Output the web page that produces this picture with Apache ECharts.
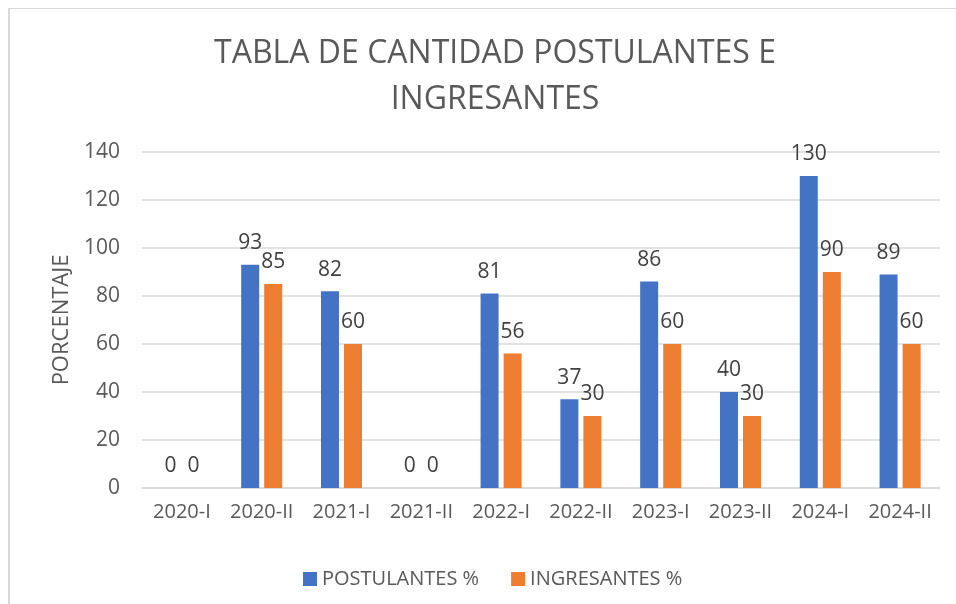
<!DOCTYPE html>
<html>
<head>
<meta charset="utf-8">
<script src="https://cdn.jsdelivr.net/npm/echarts@6/dist/echarts.min.js"></script>
<style>
  html, body { margin: 0; padding: 0; background: #fff; overflow: hidden; }
  #frame {
    position: absolute; left: 8px; top: 8px; width: 1000px; height: 700px;
    border-left: 2px solid #d9d9d9; border-top: 1px solid #d9d9d9;
  }
  #main { position: absolute; left: 0; top: 0; width: 956px; height: 604px; }
</style>
</head>
<body>
<div id="frame"></div>
<div id="main"></div>
<script>
// periodos
const periodos = ['2020-I', '2020-II', '2021-I', '2021-II', '2022-I', '2022-II', '2023-I', '2023-II', '2024-I', '2024-II']
// valores
const postulantes = [0, 93, 82, 0, 81, 37, 86, 40, 130, 89]
const ingresantes = [0, 85, 60, 0, 56, 30, 60, 30, 90, 60]
const ejeY = { min: 0, max: 140, interval: 20 }

const FONT = '"Open Sans", "Noto Sans", sans-serif'
const GRIS = '#595959'

const chart = echarts.init(document.getElementById('main'))

const etiqueta = {
  show: true,
  position: 'top',
  distance: 11,
  fontFamily: FONT,
  fontSize: 21,
  color: '#404040'
}

chart.setOption({
  animation: false,
  title: {
    text: 'TABLA DE CANTIDAD POSTULANTES E\nINGRESANTES',
    left: 490,
    top: 26,
    textAlign: 'center',
    textStyle: {
      fontFamily: FONT,
      fontSize: 32,
      fontWeight: 'normal',
      lineHeight: 46,
      color: GRIS
    }
  },
  legend: {
    left: 298,
    top: 564,
    itemWidth: 14,
    itemHeight: 14,
    itemGap: 32,
    icon: 'rect',
    textStyle: { fontFamily: FONT, fontSize: 20, color: GRIS }
  },
  grid: { left: 142, right: 16, top: 152, bottom: 116 },
  xAxis: {
    type: 'category',
    data: periodos,
    axisTick: { show: false },
    axisLine: { lineStyle: { color: '#d9d9d9', width: 1.5 } },
    axisLabel: { interval: 0, hideOverlap: false, margin: 14, fontFamily: FONT, fontSize: 20, color: GRIS }
  },
  yAxis: {
    type: 'value',
    min: ejeY.min,
    max: ejeY.max,
    interval: ejeY.interval,
    name: 'PORCENTAJE',
    nameLocation: 'middle',
    nameRotate: 90,
    nameGap: 68,
    nameTextStyle: { fontFamily: FONT, fontSize: 22, color: GRIS },
    axisLine: { show: false },
    axisTick: { show: false },
    splitLine: { lineStyle: { color: '#d9d9d9', width: 1.5 } },
    axisLabel: { margin: 22, fontFamily: FONT, fontSize: 21, color: GRIS }
  },
  series: [
    {
      name: 'POSTULANTES %',
      type: 'bar',
      data: postulantes,
      barWidth: 18,
      barGap: '28%',
      itemStyle: { color: '#4472C4' },
      label: etiqueta
    },
    {
      name: 'INGRESANTES %',
      type: 'bar',
      data: ingresantes,
      barWidth: 18,
      itemStyle: { color: '#ED7D31' },
      label: etiqueta
    }
  ]
})
</script>
</body>
</html>
